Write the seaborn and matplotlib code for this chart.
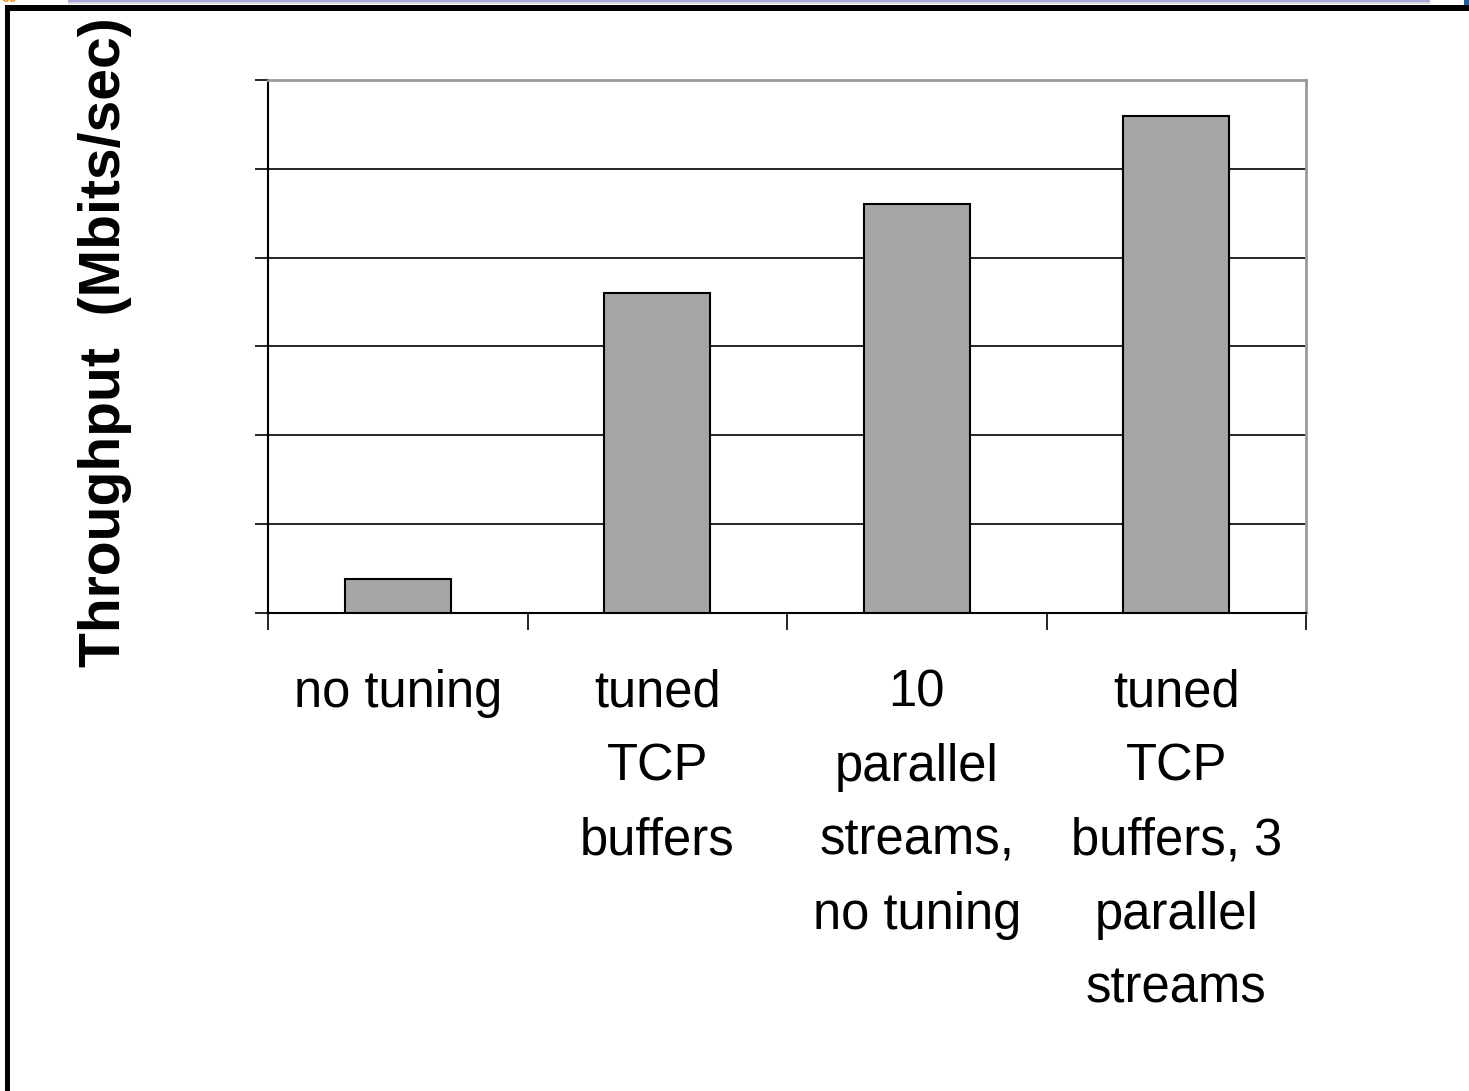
import matplotlib
matplotlib.use("Agg")
import matplotlib.pyplot as plt
from matplotlib.patches import Rectangle
import seaborn as sns
import pandas as pd

# Throughput for each TCP configuration (Mbits/sec)
categories = [
    "no tuning",
    "tuned\nTCP\nbuffers",
    "10\nparallel\nstreams,\nno tuning",
    "tuned\nTCP\nbuffers, 3\nparallel\nstreams",
]
throughput = [38, 360, 460, 560]
y_ticks = [0, 100, 200, 300, 400, 500, 600]

df = pd.DataFrame({"config": categories, "throughput": throughput})

sns.set_theme(style="white")
plt.rcParams["font.family"] = ["Liberation Sans", "DejaVu Sans"]

W, H = 1469, 1091
fig = plt.figure(figsize=(W / 100, H / 100), dpi=100)
fig.patch.set_facecolor("white")

ax = fig.add_axes([268 / W, 1 - 613 / H, (1306 - 268) / W, (613 - 80) / H])
sns.barplot(data=df, x="config", y="throughput", color="#a6a6a6",
            saturation=1, width=0.41, edgecolor="black", linewidth=1.5,
            ax=ax, zorder=3)

ax.set_xlim(-0.5, len(categories) - 0.5)
ax.set_ylim(y_ticks[0], y_ticks[-1])
ax.set_yticks(y_ticks)
ax.set_yticklabels([])
ax.yaxis.grid(True, color="black", linewidth=1.2, zorder=0)
ax.xaxis.grid(False)
ax.set_axisbelow(True)

# Category separators below the axis
ax.set_xticks([i - 0.5 for i in range(len(categories) + 1)], minor=True)
ax.tick_params(axis="x", which="minor", length=12, width=1.2, color="black",
               direction="out", bottom=True)
ax.tick_params(axis="x", which="major", length=0, pad=40, labelsize=36.5,
               labelcolor="black")
ax.tick_params(axis="y", which="major", length=9.5, width=1.2, color="black",
               direction="out", left=True)
for lbl in ax.get_xticklabels():
    lbl.set_linespacing(1.66)
    lbl.set_verticalalignment("top")

ax.set_xlabel("")
ax.set_ylabel("Throughput  (Mbits/sec)", fontsize=41, fontweight="bold",
              color="black", va="center")
ax.yaxis.set_label_coords((105 - 268) / 1038, (613 - 342) / 533)

for side in ("left", "bottom"):
    ax.spines[side].set_color("black")
    ax.spines[side].set_linewidth(1.5)
for side in ("top", "right"):
    ax.spines[side].set_visible(True)
    ax.spines[side].set_color("#9a9a9a")
    ax.spines[side].set_linewidth(2)

# Slide frame around the chart
def px_rect(x0, y0, x1, y1, color):
    fig.add_artist(Rectangle((x0 / W, 1 - y1 / H), (x1 - x0) / W, (y1 - y0) / H,
                             transform=fig.transFigure, facecolor=color,
                             edgecolor="none", zorder=10))

px_rect(5, 5, W, 11, "black")
px_rect(5, 5, 10, H, "black")
px_rect(68, 0, 1430, 2, "#a9a9e0")
px_rect(68, 2, 1430, 4, "#d8d8d8")
px_rect(1464, 0, W, 5, "#1a5f9e")
fig.text(2 / W, 1 + 2 / H, "00", color="#ff8c1a", fontsize=10,
         fontweight="bold", ha="left", va="center")

fig.savefig("out.png", dpi=100, facecolor="white")
